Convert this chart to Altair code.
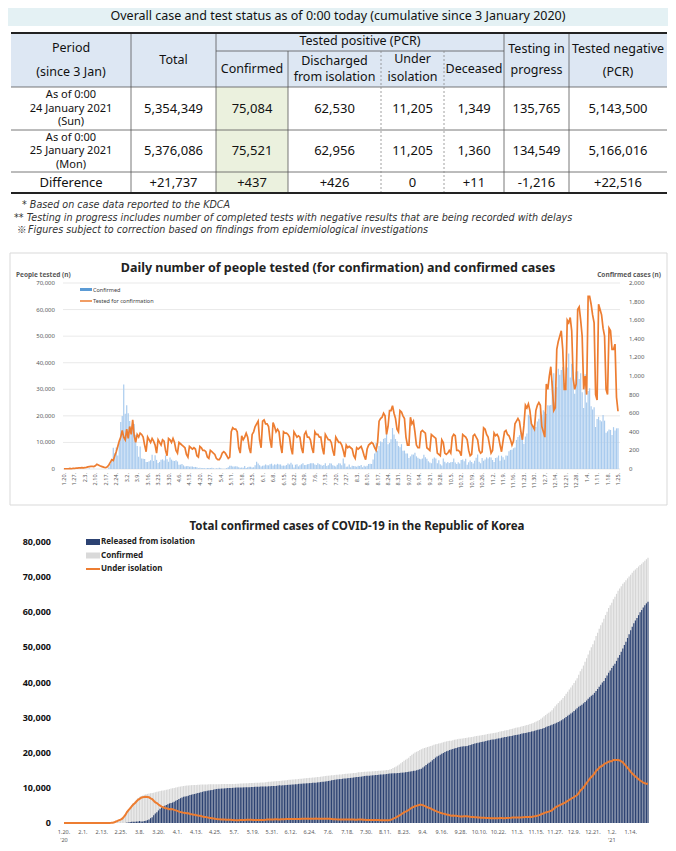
import altair as alt
import pandas as pd

FONT = "Noto Sans"

# ---------------------------------------------------------------- data
table_title = "Overall case and test status as of 0:00 today (cumulative since 3 January 2020)"
row_24 = ["5,354,349", "75,084", "62,530", "11,205", "1,349", "135,765", "5,143,500"]
row_25 = ["5,376,086", "75,521", "62,956", "11,205", "1,360", "134,549", "5,166,016"]
row_diff = ["+21,737", "+437", "+426", "0", "+11", "-1,216", "+22,516"]
row_names = [["As of 0:00", "24 January 2021", "(Sun)"],
             ["As of 0:00", "25 January 2021", "(Mon)"],
             ["Difference"]]
footnotes = ["* Based on case data reported to the KDCA",
             "** Testing in progress includes number of completed tests with negative results that are being recorded with delays",
             "Figures subject to correction based on findings from epidemiological investigations"]
ref_mark = "\u203b"

chart2_title = "Daily number of people tested (for confirmation) and confirmed cases"
chart3_title = "Total confirmed cases of COVID-19 in the Republic of Korea"

# daily tests for confirmation (thousands), weeks starting Monday 2020-01-20
tests_k = [
    [0.1, 0.1, 0.1, 0.1, 0.2, 0.1, 0.2],
    [0.2, 0.3, 0.3, 0.4, 0.4, 0.5, 0.4],
    [0.5, 0.6, 0.8, 0.9, 1.0, 1.0, 0.9],
    [1.2, 1.8, 1.5, 1.2, 1.0, 0.8, 0.6],
    [0.5, 0.8, 1.5, 2.5, 3.5, 3.2, 5.0],
    [6.5, 8.5, 10.5, 12, 14.5, 12, 11],
    [15, 11.5, 16, 13, 18.5, 12.5, 10],
    [13, 12, 13.5, 13, 12, 9, 6.5],
    [12, 11, 10, 11.5, 10.5, 9, 6],
    [11, 10, 9, 11, 10.5, 7, 5],
    [11.5, 11, 10, 11.5, 10, 7, 6],
    [10, 9.5, 9, 8.5, 8, 5.5, 4.5],
    [8.5, 8, 7.5, 8, 7.5, 5, 4.5],
    [8.5, 8, 7, 7, 6.5, 4.5, 4],
    [7, 6.5, 6, 5.5, 4, 3.5, 3.5],
    [4.5, 6, 6.5, 6, 5, 4, 4.5],
    [14, 15.5, 15, 15, 14, 8, 6],
    [12.5, 11, 12, 13.5, 12, 8, 6],
    [13, 14, 16, 17, 18, 11, 8],
    [18, 18.5, 17, 17, 16, 11, 8],
    [17.5, 16, 14, 15, 14, 9, 6],
    [14, 13.5, 13.5, 13, 12, 8, 5.5],
    [14, 13, 12, 12.5, 12, 8, 6],
    [13, 14, 12, 12, 11, 8, 6],
    [14, 13, 13, 12, 12, 8, 5.5],
    [13, 12, 11, 11, 10, 7, 5],
    [12, 11, 10, 10, 9, 7, 4.5],
    [9, 8, 8.5, 8, 7.5, 5, 4],
    [8, 7.5, 8, 8.5, 7, 5, 3.5],
    [7.5, 9, 9.5, 10, 9.5, 8, 7],
    [10, 18, 19, 19.5, 21, 20, 13],
    [16, 22, 22, 23.8, 21, 19, 15],
    [14, 22, 21.5, 20, 19, 12, 9],
    [9, 19.5, 17, 18, 14, 9, 8],
    [8, 14, 14.5, 14, 13.5, 8, 7.5],
    [7, 13, 12.5, 12, 11.5, 6, 5.5],
    [5, 11, 10, 6, 5.5, 6, 7],
    [6, 12, 13, 12.5, 7, 7, 6.5],
    [5, 13, 12.5, 12, 11, 7, 5],
    [5.5, 12.5, 13, 12, 11, 7, 6],
    [6.5, 15.5, 15, 13, 12, 9, 6],
    [7, 13.5, 12.5, 13, 12, 9, 6.5],
    [10.5, 14, 14.5, 13, 12.5, 11, 9],
    [10.5, 17, 18, 19, 18, 14, 11],
    [16.5, 24, 23, 24.5, 22, 17, 16],
    [15, 22, 24, 25, 24, 16, 14],
    [12, 32, 30, 35, 38.5, 31, 22],
    [23, 45, 48, 50, 52, 45, 30],
    [30, 56, 55, 57, 52, 34, 30],
    [32, 60, 61, 56, 50, 30, 35],
    [28, 65, 65, 62, 58, 55, 28],
    [26, 62, 60, 58, 53, 50, 30],
    [28, 53, 52, 45, 45, 47, 27],
    [21.737],
]

# daily confirmed cases, same weeks
confirmed_daily = [
    [1, 0, 0, 0, 1, 0, 1],
    [1, 0, 0, 0, 7, 1, 3],
    [0, 1, 3, 5, 1, 0, 3],
    [0, 0, 0, 0, 0, 0, 1],
    [1, 1, 20, 53, 100, 229, 169],
    [231, 144, 284, 505, 571, 909, 595],
    [686, 600, 516, 438, 518, 483, 367],
    [248, 131, 242, 114, 110, 107, 76],
    [74, 84, 93, 152, 87, 147, 98],
    [64, 76, 100, 104, 91, 146, 105],
    [78, 125, 101, 89, 86, 94, 81],
    [47, 47, 53, 39, 27, 30, 32],
    [25, 27, 27, 22, 22, 18, 8],
    [13, 9, 11, 8, 6, 10, 10],
    [10, 14, 9, 4, 9, 6, 13],
    [8, 3, 2, 4, 12, 18, 34],
    [35, 27, 26, 29, 27, 19, 13],
    [15, 13, 32, 12, 20, 23, 25],
    [16, 19, 40, 79, 58, 39, 27],
    [35, 38, 49, 39, 39, 51, 57],
    [38, 50, 45, 56, 48, 49, 34],
    [37, 34, 43, 59, 49, 67, 48],
    [17, 46, 51, 28, 39, 51, 62],
    [42, 43, 51, 54, 63, 63, 61],
    [48, 44, 63, 50, 45, 35, 44],
    [62, 33, 39, 61, 60, 39, 34],
    [26, 45, 63, 59, 41, 113, 58],
    [25, 28, 48, 18, 36, 31, 30],
    [23, 34, 33, 43, 20, 36, 28],
    [34, 54, 56, 54, 103, 166, 279],
    [197, 246, 297, 288, 324, 332, 397],
    [266, 280, 320, 441, 371, 323, 299],
    [248, 235, 267, 195, 198, 168, 167],
    [119, 136, 156, 155, 176, 136, 121],
    [109, 106, 113, 153, 126, 110, 82],
    [70, 61, 110, 125, 114, 61, 95],
    [50, 38, 113, 77, 63, 75, 64],
    [73, 75, 114, 69, 54, 72, 58],
    [97, 102, 84, 110, 47, 73, 91],
    [76, 58, 89, 121, 155, 77, 61],
    [119, 88, 103, 125, 114, 127, 124],
    [97, 75, 118, 125, 145, 89, 143],
    [126, 100, 146, 143, 191, 205, 208],
    [223, 230, 313, 343, 363, 386, 330],
    [271, 349, 382, 583, 569, 504, 450],
    [438, 451, 511, 540, 629, 583, 631],
    [615, 594, 686, 682, 689, 950, 1030],
    [718, 880, 1078, 1014, 1064, 1097, 926],
    [869, 1092, 1241, 985, 1132, 970, 808],
    [1045, 1050, 967, 1029, 824, 657, 1020],
    [715, 840, 869, 674, 641, 665, 451],
    [537, 561, 524, 512, 580, 520, 389],
    [405, 424, 420, 366, 450, 413, 437],
    [437],
]

# people under isolation, same weeks
under_isolation = [
    [1, 1, 1, 1, 2, 2, 3],
    [4, 4, 4, 4, 11, 12, 15],
    [15, 16, 19, 23, 24, 24, 25],
    [24, 25, 21, 21, 20, 19, 20],
    [18, 19, 39, 92, 192, 418, 586],
    [813, 955, 1238, 1742, 2306, 3107, 3680],
    [4175, 4750, 5255, 5643, 6134, 6578, 6838],
    [7212, 7307, 7407, 7470, 7402, 7314, 7024],
    [6789, 6325, 5884, 5684, 5281, 4966, 4665],
    [4523, 4275, 4216, 4057, 3930, 3979, 3891],
    [3723, 3591, 3460, 3246, 3125, 3026, 2930],
    [2873, 2808, 2747, 2582, 2484, 2385, 2324],
    [2236, 2133, 2051, 1970, 1843, 1731, 1682],
    [1597, 1516, 1454, 1378, 1280, 1185, 1128],
    [1082, 1033, 1020, 1002, 981, 954, 929],
    [908, 892, 863, 820, 799, 796, 813],
    [855, 876, 868, 888, 915, 928, 924],
    [898, 881, 858, 854, 889, 870, 880],
    [878, 866, 896, 966, 985, 1001, 1008],
    [1021, 1043, 1055, 1010, 998, 1050, 1077],
    [1075, 1106, 1105, 1128, 1143, 1151, 1150],
    [1133, 1136, 1109, 1131, 1179, 1207, 1214],
    [1185, 1187, 1217, 1193, 1208, 1243, 1279],
    [1241, 1233, 1242, 1239, 1242, 1244, 1215],
    [1212, 1184, 1143, 1097, 1101, 1046, 1017],
    [1029, 1012, 983, 1007, 1009, 1005, 986],
    [966, 962, 970, 948, 943, 1007, 1018],
    [997, 948, 918, 876, 889, 885, 871],
    [848, 856, 847, 866, 842, 807, 797],
    [789, 799, 774, 788, 842, 960, 1193],
    [1380, 1606, 1887, 2130, 2420, 2693, 3032],
    [3226, 3432, 3706, 4065, 4356, 4559, 4815],
    [4913, 5034, 5163, 5180, 5075, 4892, 4663],
    [4415, 4297, 4128, 3887, 3680, 3426, 3250],
    [3083, 2903, 2766, 2667, 2560, 2428, 2348],
    [2210, 2096, 2100, 2082, 2073, 1979, 1946],
    [1871, 1852, 1914, 1945, 1922, 1881, 1779],
    [1711, 1692, 1652, 1603, 1550, 1536, 1480],
    [1489, 1481, 1421, 1431, 1390, 1349, 1348],
    [1371, 1353, 1351, 1368, 1441, 1421, 1382],
    [1366, 1413, 1401, 1459, 1484, 1540, 1566],
    [1587, 1567, 1599, 1599, 1607, 1633, 1674],
    [1705, 1704, 1753, 1741, 1853, 1912, 2010],
    [2109, 2227, 2437, 2621, 2812, 3015, 3132],
    [3234, 3405, 3600, 4005, 4381, 4663, 4898],
    [5106, 5287, 5514, 5736, 6007, 6269, 6612],
    [6843, 7121, 7380, 7678, 7976, 8499, 9284],
    [9604, 10096, 10759, 11396, 11953, 12617, 13105],
    [13520, 14107, 14820, 15196, 15727, 16095, 16285],
    [16737, 16960, 17185, 17430, 17595, 17555, 17910],
    [17933, 17966, 17937, 17826, 17570, 17266, 16736],
    [16242, 15717, 15164, 14566, 14113, 13650, 13263],
    [12892, 12477, 12096, 11813, 11513, 11322, 11205],
    [11205],
]

# cumulative deaths at each week
deceased_weekly = [0, 0, 0, 0, 5, 17, 50, 75, 104, 144, 183, 214, 232, 242, 250, 256,
                   263, 266, 270, 273, 277, 280, 282, 283, 288, 295, 299, 301, 303, 305,
                   309, 324, 331, 358, 378, 395, 415, 433, 439, 457, 464, 475, 494, 501,
                   513, 549, 587, 659, 819, 981, 1125, 1249, 1349, 1360]

week_labels = ["1.20.", "1.27.", "2.3.", "2.10.", "2.17.", "2.24.", "3.2.", "3.9.", "3.16.",
               "3.23.", "3.30.", "4.6.", "4.13.", "4.20.", "4.27.", "5.4.", "5.11.", "5.18.",
               "5.25.", "6.1.", "6.8.", "6.15.", "6.22.", "6.29.", "7.6.", "7.13.", "7.20.",
               "7.27.", "8.3.", "8.10.", "8.17.", "8.24.", "8.31.", "9.07.", "9.14.", "9.21.",
               "9.28.", "10.5.", "10.12.", "10.19.", "10.26.", "11.2.", "11.9.", "11.16.",
               "11.23.", "11.30.", "12.7.", "12.14.", "12.21.", "12.28.", "1.4.", "1.11.",
               "1.18.", "1.25."]
label12 = ["1.20.", "2.1.", "2.13.", "2.25.", "3.8.", "3.20.", "4.1.", "4.13.", "4.25.",
           "5.7.", "5.19.", "5.31.", "6.12.", "6.24.", "7.6.", "7.18.", "7.30.", "8.11.",
           "8.23.", "9.4.", "9.16.", "9.28.", "10.10.", "10.22.", "11.3.", "11.15.",
           "11.27.", "12.9.", "12.21.", "1.2.", "1.14."]
year_marks = {"1.20.": "'20", "1.2.": "'21"}

left_ticks = [0, 10000, 20000, 30000, 40000, 50000, 60000, 70000]
right_ticks = [0, 200, 400, 600, 800, 1000, 1200, 1400, 1600, 1800, 2000]
c3_ticks = [0, 10000, 20000, 30000, 40000, 50000, 60000, 70000, 80000]

# ---------------------------------------------------------------- tables
tests = [v * 1000 for w in tests_k for v in w]
conf = [v for w in confirmed_daily for v in w]
iso = [v for w in under_isolation for v in w]
n = len(conf)
daily = pd.DataFrame({"i": range(n), "tests": tests, "conf": conf, "iso": iso})
daily["cum"] = daily["conf"].cumsum()
daily["dec"] = [deceased_weekly[i // 7] for i in range(n)]
daily["rel"] = (daily["cum"] - daily["iso"] - daily["dec"]).clip(lower=0)

one = pd.DataFrame({"a": [0]})

# ---------------------------------------------------------------- panel A: table
WA, HA = 660, 244
CX = [3, 123, 208, 280, 373, 436, 496, 561, 659]
RY = [25, 43, 79, 122, 164, 185]
sxA = alt.Scale(domain=[0, WA], range=[0, WA])
syA = alt.Scale(domain=[0, HA], range=[0, HA])

rects = pd.DataFrame([
    dict(x=0, x2=WA, y=0, y2=18, c="#e4f1f4"),
    dict(x=CX[0], x2=CX[-1], y=RY[0], y2=RY[2], c="#dde7f3"),
    dict(x=CX[2], x2=CX[3], y=RY[2], y2=RY[5], c="#ebf1de"),
])
lines = pd.DataFrame([
    dict(x=CX[0], x2=CX[-1], y=RY[0], y2=RY[0], k="thick"),
    dict(x=CX[0], x2=CX[-1], y=RY[5], y2=RY[5], k="thick"),
    dict(x=CX[0], x2=CX[-1], y=RY[2], y2=RY[2], k="thin"),
    dict(x=CX[0], x2=CX[-1], y=RY[3], y2=RY[3], k="thin"),
    dict(x=CX[0], x2=CX[-1], y=RY[4], y2=RY[4], k="thin"),
    dict(x=CX[2], x2=CX[6], y=RY[1], y2=RY[1], k="thin"),
    dict(x=CX[1], x2=CX[1], y=RY[0], y2=RY[5], k="thin"),
    dict(x=CX[2], x2=CX[2], y=RY[0], y2=RY[5], k="thin"),
    dict(x=CX[6], x2=CX[6], y=RY[0], y2=RY[5], k="thin"),
    dict(x=CX[7], x2=CX[7], y=RY[0], y2=RY[5], k="thin"),
    dict(x=CX[3], x2=CX[3], y=RY[1], y2=RY[5], k="thin"),
    dict(x=CX[4], x2=CX[4], y=RY[1], y2=RY[5], k="dash"),
    dict(x=CX[5], x2=CX[5], y=RY[1], y2=RY[5], k="dash"),
])


def cell_lines(lines_, c0, c1, cy, gap):
    out = []
    m = len(lines_)
    for j, t in enumerate(lines_):
        out.append(dict(x=(CX[c0] + CX[c1]) / 2, y=cy + (j - (m - 1) / 2) * gap, t=t))
    return out


head = []
head += cell_lines(["Period", "(since 3 Jan)"], 0, 1, 52, 24)
head += cell_lines(["Total"], 1, 2, 52, 0)
head += cell_lines(["Tested positive (PCR)"], 2, 6, 33, 0)
head += cell_lines(["Confirmed"], 2, 3, 61, 0)
head += cell_lines(["Discharged", "from isolation"], 3, 4, 61, 16)
head += cell_lines(["Under", "isolation"], 4, 5, 60, 18)
head += cell_lines(["Deceased"], 5, 6, 61, 0)
head += cell_lines(["Testing in", "progress"], 6, 7, 51.5, 21)
head += cell_lines(["Tested negative", "(PCR)"], 7, 8, 52.5, 23)
head = pd.DataFrame(head)

names = []
body = []
row_cy = [(RY[2] + RY[3]) / 2, (RY[3] + RY[4]) / 2, (RY[4] + RY[5]) / 2]
for r, vals in enumerate([row_24, row_25, row_diff]):
    if len(row_names[r]) > 1:
        names += cell_lines(row_names[r], 0, 1, row_cy[r], 13.5)
    else:
        body += cell_lines(row_names[r], 0, 1, row_cy[r], 0)
    for c, v in enumerate(vals):
        body += cell_lines([v], c + 1, c + 2, row_cy[r], 0)
names = pd.DataFrame(names)
body = pd.DataFrame(body)

fn = pd.DataFrame({"t": footnotes, "y": [197, 209.5, 222], "x": [14, 6, 20]})
fmark = pd.DataFrame({"t": [ref_mark], "y": [222], "x": [9]})
ttl = pd.DataFrame({"t": [table_title], "x": [WA / 2], "y": [8]})


def XYa(chart, two=False):
    enc = dict(x=alt.X("x:Q", scale=sxA, axis=None), y=alt.Y("y:Q", scale=syA, axis=None))
    if two:
        enc["x2"] = "x2:Q"
        enc["y2"] = "y2:Q"
    return chart.encode(**enc)


A_rect = XYa(alt.Chart(rects).mark_rect(), True).encode(color=alt.Color("c:N", scale=None))
A_thick = XYa(alt.Chart(lines).transform_filter("datum.k == 'thick'").mark_rule(color="#222222", strokeWidth=2), True)
A_thin = XYa(alt.Chart(lines).transform_filter("datum.k == 'thin'").mark_rule(color="#555555", strokeWidth=0.8), True)
A_dash = XYa(alt.Chart(lines).transform_filter("datum.k == 'dash'").mark_rule(color="#888888", strokeWidth=0.8, strokeDash=[2, 2]), True)
A_head = XYa(alt.Chart(head).mark_text(font=FONT, fontSize=12.5, color="#111111", baseline="middle")).encode(text="t:N")
A_names = XYa(alt.Chart(names).mark_text(font=FONT, fontSize=11, color="#111111", baseline="middle")).encode(text="t:N")
A_body = XYa(alt.Chart(body).mark_text(font=FONT, fontSize=13, color="#111111", baseline="middle")).encode(text="t:N")
A_fn = XYa(alt.Chart(fn).mark_text(font="DejaVu Sans", fontSize=9.6, fontStyle="italic", color="#333333", align="left", baseline="middle")).encode(text="t:N")
A_fm = XYa(alt.Chart(fmark).mark_text(font="Noto Sans CJK KR", fontSize=9.6, color="#333333", align="left", baseline="middle")).encode(text="t:N")
A_ttl = XYa(alt.Chart(ttl).mark_text(font=FONT, fontSize=12.5, color="#111111", baseline="middle")).encode(text="t:N")

panelA = alt.layer(A_rect, A_thin, A_dash, A_thick, A_head, A_names, A_body, A_fn, A_fm, A_ttl).properties(width=WA, height=HA)

# ---------------------------------------------------------------- panel B: daily chart
WB, HB = 660, 254
BX0, BX1, BY0, BY1 = 56, 610, 217, 31
sxB = alt.Scale(domain=[0, n - 1], range=[BX0, BX1])
syL = alt.Scale(domain=[0, 70000], range=[BY0, BY1])
syR = alt.Scale(domain=[0, 2000], range=[BY0, BY1])

lt = pd.DataFrame({"v": left_ticks, "lab": [f"{v:,}" for v in left_ticks]})
rt = pd.DataFrame({"v": right_ticks, "lab": [f"{v:,}" for v in right_ticks]})
wk = pd.DataFrame({"i": [7 * k for k in range(len(week_labels))], "lab": week_labels})

B_box = alt.Chart(one).mark_rect(fill="white", stroke="#d9d9d9", strokeWidth=1).encode(
    x=alt.value(2), x2=alt.value(659), y=alt.value(1), y2=alt.value(253))
B_grid = alt.Chart(lt).mark_rule(color="#e3e3e3", strokeWidth=0.8).encode(
    x=alt.value(BX0 - 1), x2=alt.value(BX1 + 2), y=alt.Y("v:Q", scale=syL, axis=None))
B_bars = alt.Chart(daily).transform_calculate(xa="datum.i - 0.4", xb="datum.i + 0.4").mark_rect(
    color="#a9cbee").encode(
    x=alt.X("xa:Q", scale=sxB, axis=None), x2="xb:Q",
    y=alt.Y("conf:Q", scale=syR, axis=None), y2=alt.datum(0))
B_line = alt.Chart(daily).mark_line(color="#ed7d31", strokeWidth=1.7).encode(
    x=alt.X("i:Q", scale=sxB, axis=None), y=alt.Y("tests:Q", scale=syL, axis=None))
B_llab = alt.Chart(lt).mark_text(font=FONT, fontSize=6, color="#595959", align="right", baseline="middle").encode(
    x=alt.value(47), y=alt.Y("v:Q", scale=syL, axis=None), text="lab:N")
B_rlab = alt.Chart(rt).mark_text(font=FONT, fontSize=6, color="#595959", align="left", baseline="middle").encode(
    x=alt.value(621), y=alt.Y("v:Q", scale=syR, axis=None), text="lab:N")
B_xlab = alt.Chart(wk).mark_text(font=FONT, fontSize=5.5, color="#595959", align="right", baseline="middle", angle=270).encode(
    x=alt.X("i:Q", scale=sxB, axis=None), y=alt.value(BY0 + 4), text="lab:N")
B_title = alt.Chart(one).mark_text(font=FONT, fontSize=12.5, fontWeight="bold", color="#222222", baseline="middle").encode(
    x=alt.value(330), y=alt.value(16), text=alt.value(chart2_title))
B_lt = alt.Chart(one).mark_text(font=FONT, fontSize=6.5, fontWeight="bold", color="#595959", align="left", baseline="middle").encode(
    x=alt.value(8), y=alt.value(23), text=alt.value("People tested (n)"))
B_rtt = alt.Chart(one).mark_text(font=FONT, fontSize=6.5, fontWeight="bold", color="#595959", align="right", baseline="middle").encode(
    x=alt.value(653), y=alt.value(23), text=alt.value("Confirmed cases (n)"))
B_leg1 = alt.Chart(one).mark_rect(color="#5b9bd5").encode(
    x=alt.value(72), x2=alt.value(84), y=alt.value(36), y2=alt.value(39))
B_leg2 = alt.Chart(one).mark_rule(color="#ed7d31", strokeWidth=1.5).encode(
    x=alt.value(72), x2=alt.value(84), y=alt.value(49))
B_leg1t = alt.Chart(one).mark_text(font=FONT, fontSize=5.5, color="#404040", align="left", baseline="middle").encode(
    x=alt.value(85), y=alt.value(37.5), text=alt.value("Confirmed"))
B_leg2t = alt.Chart(one).mark_text(font=FONT, fontSize=5.5, color="#404040", align="left", baseline="middle").encode(
    x=alt.value(85), y=alt.value(49), text=alt.value("Tested for confirmation"))

panelB = alt.layer(B_box, B_grid, B_bars, B_line, B_llab, B_rlab, B_xlab, B_title, B_lt, B_rtt,
                   B_leg1, B_leg2, B_leg1t, B_leg2t).resolve_scale(
    x="independent", y="independent").properties(width=WB, height=HB)

# ---------------------------------------------------------------- panel C: cumulative chart
WC, HC = 660, 337
CX0, CX1, CY0, CY1 = 56, 640, 317, 36
sxC = alt.Scale(domain=[0, n - 1], range=[CX0, CX1])
syC = alt.Scale(domain=[0, 80000], range=[CY0, CY1])

ct = pd.DataFrame({"v": c3_ticks, "lab": [f"{v:,}" for v in c3_ticks]})
d12 = pd.DataFrame({"i": [12 * k for k in range(len(label12))], "lab": label12})
d12["yr"] = [year_marks.get(l, "") for l in label12]

C_conf = alt.Chart(daily).transform_calculate(xa="datum.i - 0.38", xb="datum.i + 0.38").mark_rect(
    color="#d6d6d6").encode(
    x=alt.X("xa:Q", scale=sxC, axis=None), x2="xb:Q",
    y=alt.Y("cum:Q", scale=syC, axis=None), y2=alt.datum(0))
C_rel = alt.Chart(daily).transform_calculate(xa="datum.i - 0.38", xb="datum.i + 0.38").mark_rect(
    color="#2c4272").encode(
    x=alt.X("xa:Q", scale=sxC, axis=None), x2="xb:Q",
    y=alt.Y("rel:Q", scale=syC, axis=None), y2=alt.datum(0))
C_line = alt.Chart(daily).mark_line(color="#ed7d31", strokeWidth=2).encode(
    x=alt.X("i:Q", scale=sxC, axis=None), y=alt.Y("iso:Q", scale=syC, axis=None))
C_ylab = alt.Chart(ct).mark_text(font=FONT, fontSize=9, fontWeight="bold", color="#111111", align="right", baseline="middle").encode(
    x=alt.value(43), y=alt.Y("v:Q", scale=syC, axis=None), text="lab:N")
C_xlab = alt.Chart(d12).mark_text(font=FONT, fontSize=5.5, color="#595959", baseline="middle").encode(
    x=alt.X("i:Q", scale=sxC, axis=None), y=alt.value(326), text="lab:N")
C_yr = alt.Chart(d12).mark_text(font=FONT, fontSize=5.5, color="#595959", baseline="middle").encode(
    x=alt.X("i:Q", scale=sxC, axis=None), y=alt.value(334), text="yr:N")
C_title = alt.Chart(one).mark_text(font=FONT, fontSize=11.5, fontWeight="bold", color="#222222", baseline="middle").encode(
    x=alt.value(349), y=alt.value(21), text=alt.value(chart3_title))
C_sw1 = alt.Chart(one).mark_rect(color="#2c4272").encode(
    x=alt.value(78), x2=alt.value(92), y=alt.value(33), y2=alt.value(39))
C_sw2 = alt.Chart(one).mark_rect(color="#d9d9d9").encode(
    x=alt.value(78), x2=alt.value(92), y=alt.value(46.5), y2=alt.value(52.5))
C_sw3 = alt.Chart(one).mark_rule(color="#ed7d31", strokeWidth=2).encode(
    x=alt.value(78), x2=alt.value(92), y=alt.value(63))
leg3 = pd.DataFrame({"t": ["Released from isolation", "Confirmed", "Under isolation"], "y": [36, 49.5, 63]})
C_legt = alt.Chart(leg3).mark_text(font=FONT, fontSize=8, fontWeight="bold", color="#222222", align="left", baseline="middle").encode(
    x=alt.value(93), y=alt.Y("y:Q", scale=alt.Scale(domain=[0, HC], range=[0, HC]), axis=None), text="t:N")

panelC = alt.layer(C_conf, C_rel, C_line, C_ylab, C_xlab, C_yr, C_title, C_sw1, C_sw2, C_sw3, C_legt).resolve_scale(
    x="independent", y="independent").properties(width=WC, height=HC)

chart = alt.vconcat(panelA, panelB, panelC, spacing=0).properties(padding=0).configure_view(stroke=None)
chart.save("out.html", embed_options={"renderer": "svg", "actions": False})
